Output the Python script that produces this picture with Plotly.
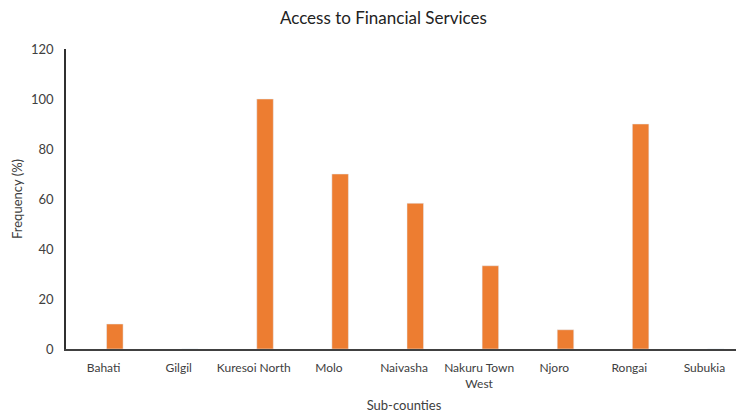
import plotly.graph_objects as go

# Sub-counties and share with access to financial services (%)
sub_counties = ['Bahati', 'Gilgil', 'Kuresoi North', 'Molo', 'Naivasha',
                'Nakuru Town<br>West', 'Njoro', 'Rongai', 'Subukia']
frequency = [10, 0, 100, 70, 58.3, 33.3, 7.7, 90, 0]

bar = go.Bar(
    x=sub_counties,
    y=frequency,
    marker_color='#ED7D31',
    width=0.22,
    offset=0.04,
)

fig = go.Figure(bar)

# page has an 8px body margin, so the figure is a bit smaller than the window
fig.update_layout(
    width=736, height=411,
    margin=dict(l=58, r=2, t=41, b=70, autoexpand=False),
    paper_bgcolor='white',
    plot_bgcolor='white',
    font=dict(family='Lato, Carlito, Calibri, sans-serif', size=11, color='#595959'),
    title=dict(text='Access to Financial Services', x=0.51, xanchor='center',
               y=0.976, yanchor='middle', yref='container',
               font=dict(size=17, color='#222222')),
    showlegend=False,
    xaxis=dict(
        title=dict(text='Sub-counties', font=dict(size=13, color='#404040'), standoff=11),
        automargin=False,
        showline=True, linecolor='#404040', linewidth=2,
        showgrid=False, ticks='', ticklabelstandoff=7,
        tickfont=dict(size=12, color='#404040'),
    ),
    yaxis=dict(
        title=dict(text='Frequency (%)', font=dict(size=13, color='#404040'), standoff=5),
        automargin=False,
        range=[0, 120], dtick=20,
        showline=True, linecolor='#303030', linewidth=1.5,
        showgrid=False, zeroline=False, ticks='', ticklabelstandoff=8,
        tickfont=dict(size=13, color='#404040'),
    ),
)

fig.write_html("out.html")
